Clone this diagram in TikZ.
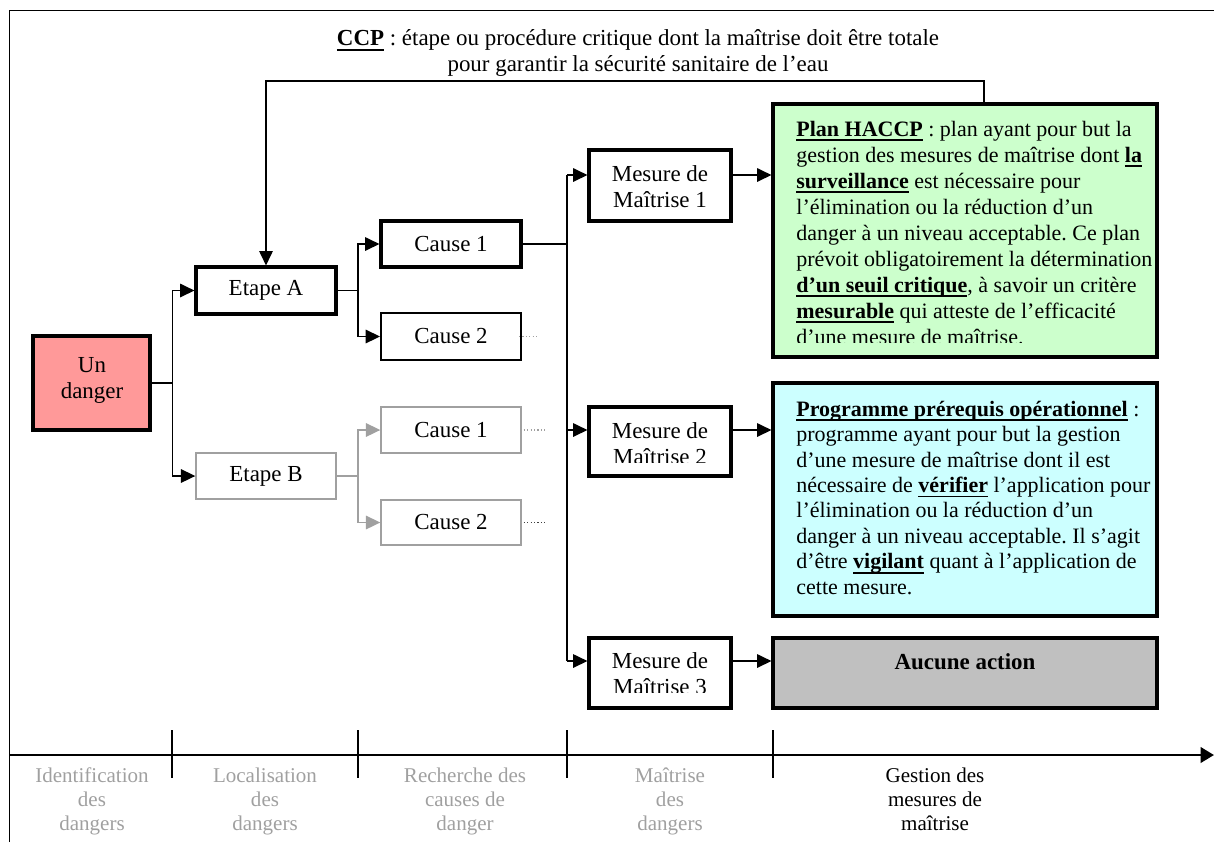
\documentclass[tikz,border=0pt]{standalone}
\usepackage{fontspec}
\setmainfont{Liberation Serif}
\usetikzlibrary{arrows.meta,calc}

\definecolor{dangerfill}{HTML}{FF9999}
\definecolor{haccpfill}{HTML}{CCFFCC}
\definecolor{prpfill}{HTML}{CCFFFF}
\definecolor{nonefill}{HTML}{C0C0C0}
\definecolor{faded}{HTML}{A0A0A0}

% bold keyword with a firm underline at a fixed depth
\newsavebox\kwbox
\newcommand{\keyword}[1]{\sbox\kwbox{\textbf{#1}}\rlap{\rule[-2.6pt]{\wd\kwbox}{0.9pt}}\usebox\kwbox}

\begin{document}
\frenchspacing
\begin{tikzpicture}[x=0.523pt, y=-0.523pt,
  txt/.style={font=\fontsize{12}{13.6}\selectfont},
  longtxt/.style={font=\fontsize{11.5}{13.6}\selectfont, inner sep=0pt, align=left, anchor=north west},
  sized/.style 2 args={minimum width={#1*0.523pt}, minimum height={#2*0.523pt}},
  stepbox/.style={draw, inner sep=0pt, line width=1.6pt, txt, align=center},
  midbox/.style={draw, inner sep=0pt, line width=1pt, txt, align=center},
  fadebox/.style={draw=faded, inner sep=0pt, line width=0.7pt, txt, align=center},
  wire/.style={line width=0.9pt},
  tip/.style={-{Triangle[length=7.5pt,width=7pt]}},
  link/.style={wire, tip},
  fadelink/.style={line width=0.9pt, faded, tip},
  dots/.style={line width=0.6pt, dash pattern=on 0.6pt off 1.2pt},
  phase/.style={font=\fontsize{11}{12.6}\selectfont, align=center, anchor=north, inner sep=0pt},
  boxtext/.style={txt, inner sep=0pt, align=center, anchor=north},
]
\useasboundingbox (0,0) rectangle (1214,842);

% outer frame (top and left edges)
\draw[line width=0.8pt] (9.5,842) -- (9.5,10.5) -- (1214,10.5);

% CCP definition
\node[boxtext] (ccp) at (638,27)
  {\strut\keyword{CCP} : étape ou procédure critique dont la maîtrise doit être totale\\
   pour garantir la sécurité sanitaire de l’eau};

% hazard, steps and causes
\node[stepbox, line width=1.9pt, fill=dangerfill, sized={117}{94}] (danger) at (91.5,383) {};
\node[boxtext] (dangertxt) at (92,354) {\strut Un\\danger};

\node[stepbox, sized={140}{47}] (etA) at (266,290.5) {Etape A};
\node[fadebox, sized={140}{46}] (etB) at (266,476) {Etape B};

\node[stepbox, sized={140}{46}] (c1A) at (451,244) {Cause 1};
\node[midbox, sized={140}{47}] (c2A) at (451,336.5) {Cause 2};
\node[fadebox, sized={140}{46}] (c1B) at (451,430) {Cause 1};
\node[fadebox, sized={140}{45}] (c2B) at (451,522.5) {Cause 2};

% control measures
\node[stepbox, sized={142}{71}] (m1) at (660,185.5) {};
\node[stepbox, sized={142}{69}] (m2) at (660,441.5) {};
\node[stepbox, sized={142}{70}] (m3) at (660,673) {};
\node[boxtext] (m1t) at (660,163) {\strut Mesure de\\Maîtrise 1};
\begin{scope}
  \clip (m2.north west) rectangle ($(m2.south east)+(0,-15)$);
  \node[boxtext] (m2t) at (660,420) {\strut Mesure de\\Maîtrise 2};
\end{scope}
\begin{scope}
  \clip (m3.north west) rectangle ($(m3.south east)+(0,-17.5)$);
  \node[boxtext] (m3t) at (660,650) {\strut Mesure de\\Maîtrise 3};
\end{scope}

% management of the measures
\node[stepbox, fill=haccpfill, sized={384}{253}] (haccp) at (965,230.5) {};
\node[stepbox, fill=prpfill, sized={384}{233}] (prp) at (965,499.5) {};
\node[stepbox, fill=nonefill, sized={384}{70}] (none) at (965,673) {};

\begin{scope}
  \clip (haccp.north west) rectangle ($(haccp.south east)+(0,-16)$);
  \node[longtxt] (haccptxt) at (796,117.6)
   {\strut\keyword{Plan HACCP} : plan ayant pour but la\\
    gestion des mesures de maîtrise dont \keyword{la}\\
    \keyword{surveillance} est nécessaire pour\\
    l’élimination ou la réduction d’un\\
    danger à un niveau acceptable. Ce plan\\
    prévoit obligatoirement la détermination\\
    \keyword{d’un seuil critique}, à savoir un critère\\
    \keyword{mesurable} qui atteste de l’efficacité\\
    d’une mesure de maîtrise.};
\end{scope}

\node[longtxt, font=\fontsize{11.5}{13.3}\selectfont] (prptxt) at (796,398)
  {\strut\keyword{Programme prérequis opérationnel} :\\
   programme ayant pour but la gestion\\
   d’une mesure de maîtrise dont il est\\
   nécessaire de \keyword{vérifier} l’application pour\\
   l’élimination ou la réduction d’un\\
   danger à un niveau acceptable. Il s’agit\\
   d’être \keyword{vigilant} quant à l’application de\\
   cette mesure.};

\node[boxtext] (nonetxt) at (965,651) {\strut\textbf{Aucune action}};

% connectors
\coordinate (j1) at (172.5,383);
\draw[link] (danger.east) -- (j1) |- (etA.west);
\draw[link] (j1) |- (etB.west);

\coordinate (j2) at (358,290.5);
\draw[link] (etA.east) -- (j2) |- (c1A.west);
\draw[link] (j2) |- (c2A.west);

\coordinate (j2b) at (358,476);
\draw[fadelink] (etB.east) -- (j2b) |- (c1B.west);
\draw[fadelink] (j2b) |- (c2B.west);

\draw[dots, faded] (c2A.east) ++(-3,0) -- ++(20,0);
\draw[dots, faded] (c1B.east) ++(2,0) -- ++(22,0);
\draw[dots, black!75] (c2B.east) ++(2,0) -- ++(22,0);

\coordinate (j3) at (567,244);
\coordinate (r1) at (567,175);
\coordinate (r2) at (567,430);
\coordinate (r3) at (567,661);
\draw[wire] (c1A.east) -- (j3);
\draw[wire] (r1) -- (r3);
\draw[link] (r1) -- (m1.west |- r1);
\draw[link] (r2) -- (m2.west |- r2);
\draw[link] (r3) -- (m3.west |- r3);
\draw[link] (m1.east |- r1) -- (haccp.west |- r1);
\draw[link] (m2.east |- r2) -- (prp.west |- r2);
\draw[link] (m3.east |- r3) -- (none.west |- r3);

% CCP bracket down onto step A
\coordinate (ccpfoot) at (984,104);
\draw[link, line width=0.8pt] (ccpfoot) -- ++(0,-23) -| (etA.north);

% phase axis
\coordinate (axstart) at (9.5,755);
\coordinate (axend) at (1214,755);
\draw[line width=1.5pt, -{Triangle[length=7pt,width=8pt]}] (axstart) -- (axend);
\foreach \t in {172,358,567,773}
  \draw[line width=0.6pt] (\t,730) -- (\t,778);

\node[phase, text=faded] (ph1) at (92,765) {\strut Identification\\des\\dangers};
\node[phase, text=faded] (ph2) at (265,765) {\strut Localisation\\des\\dangers};
\node[phase, text=faded] (ph3) at (465,765) {\strut Recherche des\\causes de\\danger};
\node[phase, text=faded] (ph4) at (670,765) {\strut Maîtrise\\des\\dangers};
\node[phase] (ph5) at (935,765) {\strut Gestion des\\mesures de\\maîtrise};
\end{tikzpicture}
\end{document}
